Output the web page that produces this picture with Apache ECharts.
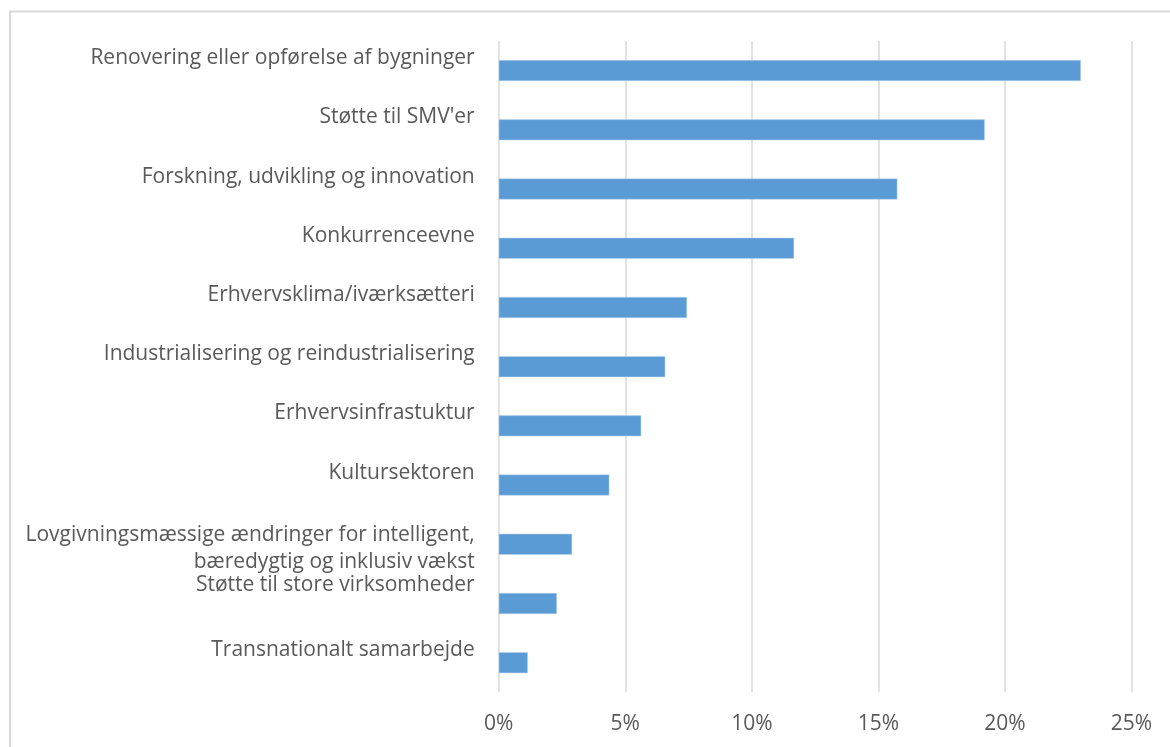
<!DOCTYPE html>
<html>
<head>
<meta charset="utf-8">
<title>Tematiske områder</title>
<script src="https://cdn.jsdelivr.net/npm/echarts@6/dist/echarts.min.js"></script>
<style>
  html, body { margin: 0; padding: 0; background: #ffffff; }
  #chart { width: 1170px; height: 747px; }
</style>
</head>
<body>
<div id="chart"></div>
<script>
// kategorier (oppefra og ned) og andele i procent
var categories = [
  "Renovering eller opførelse af bygninger",
  "Støtte til SMV'er",
  "Forskning, udvikling og innovation",
  "Konkurrenceevne",
  "Erhvervsklima/iværksætteri",
  "Industrialisering og reindustrialisering",
  "Erhvervsinfrastuktur",
  "Kultursektoren",
  "Lovgivningsmæssige ændringer for intelligent,\nbæredygtig og inklusiv vækst",
  "Støtte til store virksomheder",
  "Transnationalt samarbejde"
];
var values = [23.0, 19.2, 15.75, 11.67, 7.44, 6.58, 5.63, 4.37, 2.9, 2.3, 1.15];
var xTicks = [0, 5, 10, 15, 20, 25];

var textColor = "#595959";
var fontFamily = "'Open Sans', sans-serif";

// labels sidder over søjlen ligesom i Excel
var yData = categories.map(function (name) {
  var item = { value: name };
  if (name.indexOf("\n") >= 0) {
    item.textStyle = { verticalAlign: "middle", lineHeight: 27 };
  } else if (name === "Støtte til store virksomheder") {
    item.textStyle = { verticalAlign: "bottom", lineHeight: 37 };
  }
  return item;
});

var chart = echarts.init(document.getElementById("chart"));

var option = {
  backgroundColor: "#ffffff",
  animation: false,
  graphic: [
    {
      type: "rect",
      silent: true,
      shape: { x: 10, y: 11.5, width: 1300, height: 900 },
      style: { fill: "none", stroke: "#D9D9D9", lineWidth: 2 }
    }
  ],
  grid: {
    left: 498.7,
    right: 38.5,
    top: 41,
    bottom: 54.7
  },
  xAxis: {
    type: "value",
    min: xTicks[0],
    max: xTicks[xTicks.length - 1],
    interval: xTicks[1] - xTicks[0],
    axisLine: { show: false },
    axisTick: { show: false },
    axisLabel: {
      formatter: "{value}%",
      color: textColor,
      fontFamily: fontFamily,
      fontSize: 21,
      margin: 21
    },
    splitLine: {
      show: true,
      lineStyle: { color: "#D9D9D9", width: 1.5 }
    }
  },
  yAxis: {
    type: "category",
    inverse: true,
    data: yData,
    axisLine: { show: false },
    axisTick: { show: false },
    axisLabel: {
      color: textColor,
      fontFamily: fontFamily,
      fontSize: 21,
      lineHeight: 25,
      align: "right",
      verticalAlign: "bottom",
      margin: 24,
      interval: 0,
      formatter: function (v) {
        if (v.indexOf("\n") < 0) return v;
        // tom linje øverst skubber de to linjer lidt ned
        return "{gap|\u00a0}\n" + v.split("\n").map(function (s) {
          return "{t|" + s + "}";
        }).join("\n");
      },
      rich: {
        gap: { fontSize: 8, lineHeight: 8 },
        t: {
          color: textColor,
          fontFamily: fontFamily,
          fontSize: 21,
          lineHeight: 27
        }
      }
    }
  },
  series: [
    {
      type: "bar",
      data: values,
      barWidth: 21,
      itemStyle: {
        color: "#5B9BD5",
        borderColor: "#BDD7EE",
        borderWidth: 0.5
      }
    }
  ]
};

chart.setOption(option);
</script>
</body>
</html>
